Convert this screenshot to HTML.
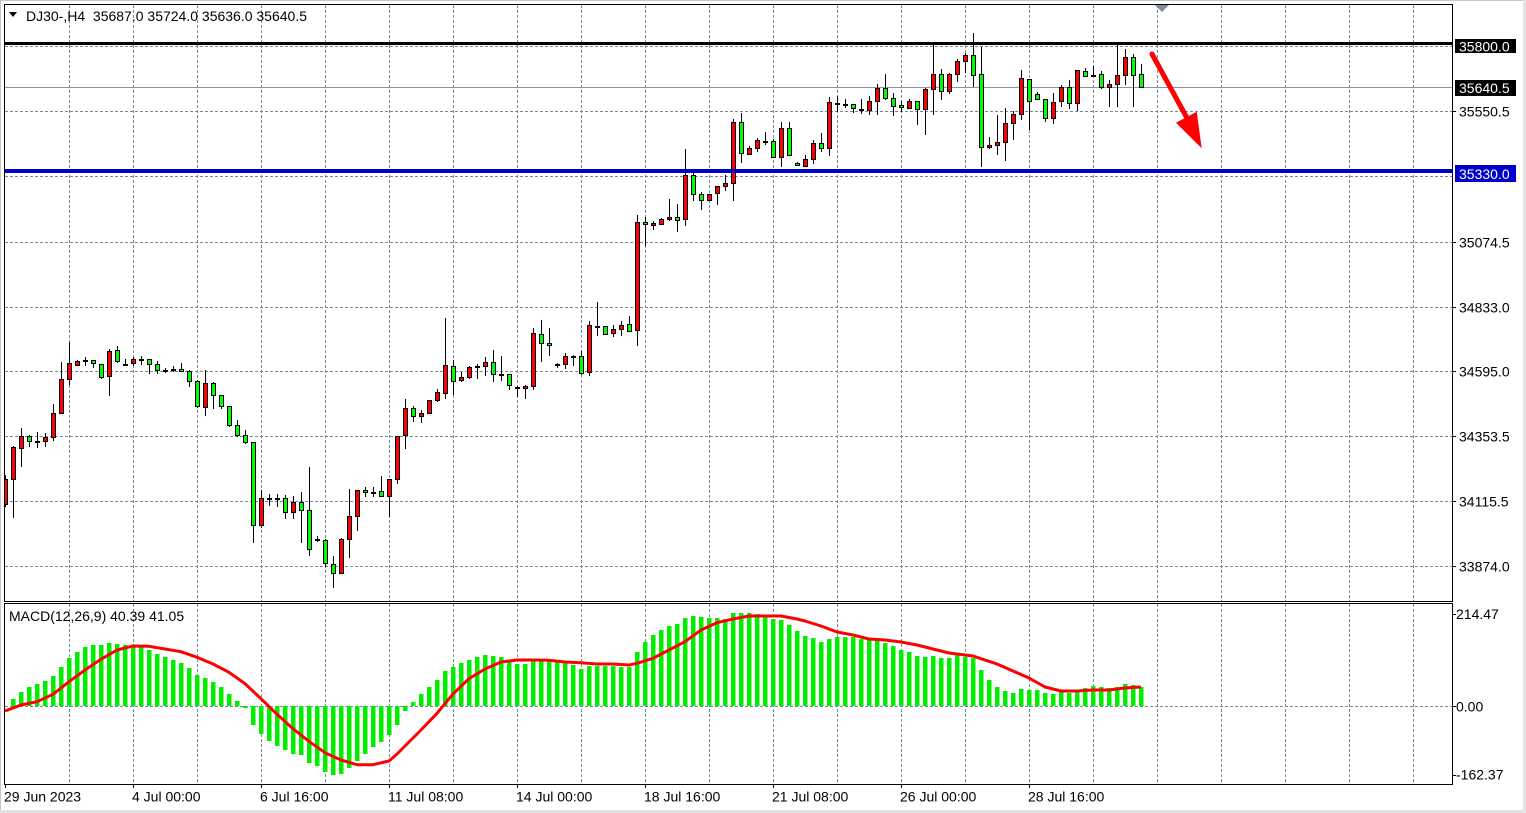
<!DOCTYPE html>
<html><head><meta charset="utf-8"><style>
html,body{margin:0;padding:0;background:#fff;}
svg{display:block;}
text{font-family:"Liberation Sans",Arial,sans-serif;font-size:14px;}
</style></head><body>
<svg width="1526" height="813" viewBox="0 0 1526 813" xmlns="http://www.w3.org/2000/svg">
<defs>
<clipPath id="cm"><rect x="5" y="5" width="1447" height="596"/></clipPath>
<clipPath id="cd"><rect x="5" y="604" width="1447" height="180"/></clipPath>
</defs>
<rect x="0" y="0" width="1526" height="813" fill="#fff"/>
<!-- outer frame -->
<path d="M0.5 813V0.5H1526" fill="none" stroke="#c8c8c8" stroke-width="1"/>
<rect x="1523" y="0" width="3" height="813" fill="#e4e4e4"/>
<rect x="0" y="810" width="1526" height="3" fill="#e4e4e4"/>

<!-- grid main -->
<g stroke="#778899" stroke-width="1" stroke-dasharray="3 2" fill="none">
<path d="M69.5 5V601M133.5 5V601M197.5 5V601M261.5 5V601M325.5 5V601M389.5 5V601M453.5 5V601M517.5 5V601M581.5 5V601M645.5 5V601M709.5 5V601M773.5 5V601M837.5 5V601M901.5 5V601M965.5 5V601M1029.5 5V601M1093.5 5V601M1157.5 5V601M1221.5 5V601M1285.5 5V601M1349.5 5V601M1413.5 5V601"/>
<path d="M5 46.5H1452M5 111.5H1452M5 176.5H1452M5 242.5H1452M5 307.5H1452M5 371.5H1452M5 436.5H1452M5 501.5H1452M5 566.5H1452"/>
<path d="M69.5 604V784M133.5 604V784M197.5 604V784M261.5 604V784M325.5 604V784M389.5 604V784M453.5 604V784M517.5 604V784M581.5 604V784M645.5 604V784M709.5 604V784M773.5 604V784M837.5 604V784M901.5 604V784M965.5 604V784M1029.5 604V784M1093.5 604V784M1157.5 604V784M1221.5 604V784M1285.5 604V784M1349.5 604V784M1413.5 604V784"/>
<path d="M5 706.5H1452"/>
</g>

<!-- bid line -->
<path d="M5 87.5H1452" stroke="#8a939c" stroke-width="1"/>

<g clip-path="url(#cm)">
<!-- wicks -->
<path fill="none" stroke="#000" stroke-width="1" d="M5.5 475V507M13.5 446V518M21.5 428V467M29.5 435V447M37.5 432V448M45.5 433V447M53.5 404V441M61.5 362V413M69.5 342V385M77.5 360V366M85.5 357V366M93.5 360V368M101.5 364V379M109.5 349V396M117.5 346V363M125.5 359V366M133.5 357V366M141.5 356V365M149.5 359V374M157.5 361V374M165.5 368V373M173.5 366V372M181.5 363V372M189.5 370V387M197.5 380V408M205.5 370V416M213.5 382V409M221.5 395V409M229.5 406V427M237.5 420V437M245.5 430V444M253.5 442V543M261.5 490V528M269.5 494V506M277.5 494V507M285.5 495V519M293.5 496V519M301.5 492V543M309.5 467V556M317.5 536V542M325.5 539V567M333.5 556V588M341.5 538V573M349.5 489V558M357.5 490V531M365.5 487V497M373.5 487V497M381.5 476V497M389.5 479V517M397.5 436V484M405.5 399V449M413.5 406V422M421.5 410V423M429.5 400V413M437.5 389V402M445.5 318V399M453.5 360V395M461.5 372V382M469.5 366V379M477.5 364V379M485.5 357V376M493.5 350V382M501.5 356V381M509.5 374V390M517.5 386V397M525.5 385V399M533.5 328V390M541.5 320V362M549.5 328V356M557.5 363V368M565.5 353V369M573.5 355V366M581.5 351V375M589.5 321V376M597.5 302V336M605.5 326V335M613.5 325V337M621.5 321V336M629.5 316V332M637.5 215V346M645.5 217V246M653.5 221V230M661.5 218V225M669.5 199V221M677.5 204V232M685.5 149V226M693.5 173V201M701.5 192V210M709.5 194V201M717.5 186V205M725.5 175V191M733.5 119V201M741.5 113V163M749.5 146V154M757.5 138V152M765.5 132V145M773.5 139V157M781.5 122V167M789.5 122V156M797.5 162V166M805.5 155V166M813.5 140V164M821.5 133V152M829.5 97V156M837.5 96V112M845.5 99V108M853.5 104V113M861.5 99V114M869.5 96V115M877.5 84V115M885.5 74V100M893.5 93V116M901.5 101V112M909.5 99V109M917.5 101V125M925.5 88V135M933.5 45V115M941.5 69V100M949.5 73V94M957.5 59V82M965.5 53V73M973.5 33V87M981.5 47V167M989.5 137V149M997.5 115V155M1005.5 108V161M1013.5 111V140M1021.5 70V120M1029.5 79V130M1037.5 92V99M1045.5 99V122M1053.5 93V124M1061.5 85V107M1069.5 80V109M1077.5 70V111M1085.5 68V77M1093.5 66V77M1101.5 71V89M1109.5 80V107M1117.5 45V107M1125.5 49V85M1133.5 54V107M1141.5 64V88"/>
<!-- red bodies -->
<path fill="#ff0000" stroke="#000" stroke-width="1" d="M3.5 479.5h4v25h-4zM11.5 447.5h4v32h-4zM19.5 436.5h4v12h-4zM43.5 437.5h4v4h-4zM51.5 413.5h4v24h-4zM59.5 379.5h4v34h-4zM67.5 363.5h4v16h-4zM75.5 361.5h4v4h-4zM107.5 351.5h4v25h-4zM131.5 359.5h4v4h-4zM203.5 383.5h4v24h-4zM259.5 498.5h4v27h-4zM291.5 502.5h4v10h-4zM339.5 539.5h4v34h-4zM347.5 516.5h4v23h-4zM355.5 490.5h4v26h-4zM387.5 479.5h4v17h-4zM395.5 436.5h4v43h-4zM403.5 408.5h4v27h-4zM419.5 413.5h4v3h-4zM427.5 400.5h4v13h-4zM435.5 392.5h4v8h-4zM443.5 365.5h4v28h-4zM459.5 377.5h4v3h-4zM467.5 367.5h4v10h-4zM483.5 362.5h4v4h-4zM523.5 386.5h4v2h-4zM531.5 333.5h4v53h-4zM563.5 356.5h4v8h-4zM587.5 325.5h4v47h-4zM611.5 329.5h4v4h-4zM619.5 325.5h4v4h-4zM635.5 222.5h4v108h-4zM651.5 223.5h4v2h-4zM659.5 219.5h4v5h-4zM667.5 217.5h4v2h-4zM683.5 175.5h4v44h-4zM707.5 194.5h4v6h-4zM715.5 186.5h4v7h-4zM723.5 183.5h4v3h-4zM731.5 122.5h4v61h-4zM747.5 148.5h4v6h-4zM755.5 140.5h4v8h-4zM779.5 128.5h4v29h-4zM803.5 159.5h4v7h-4zM811.5 143.5h4v16h-4zM827.5 102.5h4v46h-4zM867.5 101.5h4v9h-4zM875.5 88.5h4v13h-4zM907.5 101.5h4v7h-4zM923.5 89.5h4v20h-4zM931.5 74.5h4v15h-4zM947.5 74.5h4v17h-4zM955.5 61.5h4v13h-4zM963.5 55.5h4v6h-4zM987.5 145.5h4v2h-4zM995.5 142.5h4v3h-4zM1003.5 123.5h4v19h-4zM1011.5 114.5h4v9h-4zM1019.5 78.5h4v36h-4zM1051.5 102.5h4v16h-4zM1059.5 87.5h4v14h-4zM1075.5 70.5h4v33h-4zM1107.5 84.5h4v3h-4zM1115.5 75.5h4v9h-4zM1123.5 57.5h4v18h-4z"/>
<!-- green bodies -->
<path fill="#00ff00" stroke="#000" stroke-width="1" d="M27.5 436.5h4v5h-4zM91.5 360.5h4v3h-4zM99.5 364.5h4v13h-4zM115.5 350.5h4v11h-4zM147.5 359.5h4v5h-4zM155.5 364.5h4v6h-4zM179.5 369.5h4v2h-4zM187.5 371.5h4v10h-4zM195.5 381.5h4v25h-4zM211.5 383.5h4v12h-4zM219.5 395.5h4v11h-4zM227.5 406.5h4v19h-4zM235.5 425.5h4v10h-4zM243.5 435.5h4v7h-4zM251.5 442.5h4v83h-4zM283.5 498.5h4v14h-4zM299.5 502.5h4v8h-4zM307.5 510.5h4v39h-4zM323.5 540.5h4v23h-4zM331.5 564.5h4v9h-4zM363.5 490.5h4v2h-4zM379.5 491.5h4v5h-4zM411.5 408.5h4v8h-4zM451.5 366.5h4v15h-4zM491.5 362.5h4v12h-4zM507.5 374.5h4v11h-4zM539.5 334.5h4v9h-4zM547.5 343.5h4v2h-4zM579.5 356.5h4v17h-4zM603.5 326.5h4v8h-4zM627.5 324.5h4v7h-4zM643.5 222.5h4v2h-4zM675.5 217.5h4v3h-4zM691.5 175.5h4v19h-4zM699.5 194.5h4v6h-4zM739.5 122.5h4v31h-4zM771.5 141.5h4v16h-4zM787.5 128.5h4v27h-4zM795.5 163.5h4v2h-4zM819.5 143.5h4v5h-4zM851.5 104.5h4v4h-4zM883.5 88.5h4v10h-4zM891.5 98.5h4v8h-4zM899.5 105.5h4v2h-4zM915.5 101.5h4v8h-4zM939.5 74.5h4v17h-4zM971.5 55.5h4v20h-4zM979.5 74.5h4v73h-4zM1027.5 79.5h4v22h-4zM1035.5 94.5h4v5h-4zM1043.5 99.5h4v19h-4zM1067.5 87.5h4v16h-4zM1083.5 71.5h4v5h-4zM1099.5 74.5h4v13h-4zM1131.5 57.5h4v18h-4zM1139.5 74.5h4v13h-4z"/>
<!-- dojis -->
<path fill="none" stroke="#000" stroke-width="2" d="M35 442h5M83 361h5M123 365h5M139 360h5M163 371h5M171 370h5M267 499h5M275 499h5M315 540h5M371 493h5M475 367h5M499 375h5M515 388h5M555 365h5M571 357h5M595 327h5M763 142h5M835 104h5M843 105h5M859 110h5M1091 76h5"/>
</g>

<!-- level lines -->
<path d="M5 43.5H1452" stroke="#000" stroke-width="3"/>
<path d="M5 171H1452" stroke="#0000cc" stroke-width="4"/>

<!-- arrow -->
<path d="M1152 54L1187 118" stroke="#ff0000" stroke-width="5" stroke-linecap="round" fill="none"/>
<polygon points="1176,122.7 1196.7,111.7 1201.7,148.3" fill="#ff0000"/>

<!-- shift triangle -->
<polygon points="1155,5 1169,5 1162,12" fill="#7f8b97"/>

<!-- MACD histogram -->
<g clip-path="url(#cd)">
<path fill="#00f000" d="M11 706h4.5V699h-4.5zM19 706h4.5V692h-4.5zM27 706h4.5V687h-4.5zM35 706h4.5V684h-4.5zM43 706h4.5V681h-4.5zM51 706h4.5V676h-4.5zM59 706h4.5V667h-4.5zM67 706h4.5V658h-4.5zM75 706h4.5V652h-4.5zM83 706h4.5V647h-4.5zM91 706h4.5V645h-4.5zM99 706h4.5V645h-4.5zM107 706h4.5V643h-4.5zM115 706h4.5V644h-4.5zM123 706h4.5V645h-4.5zM131 706h4.5V645h-4.5zM139 706h4.5V646h-4.5zM147 706h4.5V650h-4.5zM155 706h4.5V654h-4.5zM163 706h4.5V657h-4.5zM171 706h4.5V660h-4.5zM179 706h4.5V663h-4.5zM187 706h4.5V668h-4.5zM195 706h4.5V675h-4.5zM203 706h4.5V678h-4.5zM211 706h4.5V682h-4.5zM219 706h4.5V687h-4.5zM227 706h4.5V694h-4.5zM235 706h4.5V701h-4.5zM243 706h4.5V708h-4.5zM251 706h4.5V725h-4.5zM259 706h4.5V734h-4.5zM267 706h4.5V741h-4.5zM275 706h4.5V746h-4.5zM283 706h4.5V750h-4.5zM291 706h4.5V754h-4.5zM299 706h4.5V755h-4.5zM307 706h4.5V763h-4.5zM315 706h4.5V766h-4.5zM323 706h4.5V772h-4.5zM331 706h4.5V775h-4.5zM339 706h4.5V774h-4.5zM347 706h4.5V768h-4.5zM355 706h4.5V761h-4.5zM363 706h4.5V754h-4.5zM371 706h4.5V747h-4.5zM379 706h4.5V742h-4.5zM387 706h4.5V735h-4.5zM395 706h4.5V725h-4.5zM403 706h4.5V711h-4.5zM411 706h4.5V702h-4.5zM419 706h4.5V694h-4.5zM427 706h4.5V687h-4.5zM435 706h4.5V680h-4.5zM443 706h4.5V671h-4.5zM451 706h4.5V667h-4.5zM459 706h4.5V663h-4.5zM467 706h4.5V660h-4.5zM475 706h4.5V657h-4.5zM483 706h4.5V655h-4.5zM491 706h4.5V656h-4.5zM499 706h4.5V657h-4.5zM507 706h4.5V660h-4.5zM515 706h4.5V664h-4.5zM523 706h4.5V664h-4.5zM531 706h4.5V661h-4.5zM539 706h4.5V661h-4.5zM547 706h4.5V661h-4.5zM555 706h4.5V662h-4.5zM563 706h4.5V663h-4.5zM571 706h4.5V665h-4.5zM579 706h4.5V669h-4.5zM587 706h4.5V666h-4.5zM595 706h4.5V666h-4.5zM603 706h4.5V666h-4.5zM611 706h4.5V666h-4.5zM619 706h4.5V667h-4.5zM627 706h4.5V667h-4.5zM635 706h4.5V652h-4.5zM643 706h4.5V642h-4.5zM651 706h4.5V635h-4.5zM659 706h4.5V630h-4.5zM667 706h4.5V626h-4.5zM675 706h4.5V624h-4.5zM683 706h4.5V618h-4.5zM691 706h4.5V616h-4.5zM699 706h4.5V617h-4.5zM707 706h4.5V618h-4.5zM715 706h4.5V618h-4.5zM723 706h4.5V619h-4.5zM731 706h4.5V613h-4.5zM739 706h4.5V613h-4.5zM747 706h4.5V613h-4.5zM755 706h4.5V614h-4.5zM763 706h4.5V617h-4.5zM771 706h4.5V619h-4.5zM779 706h4.5V620h-4.5zM787 706h4.5V625h-4.5zM795 706h4.5V631h-4.5zM803 706h4.5V636h-4.5zM811 706h4.5V638h-4.5zM819 706h4.5V642h-4.5zM827 706h4.5V639h-4.5zM835 706h4.5V637h-4.5zM843 706h4.5V637h-4.5zM851 706h4.5V637h-4.5zM859 706h4.5V639h-4.5zM867 706h4.5V640h-4.5zM875 706h4.5V640h-4.5zM883 706h4.5V643h-4.5zM891 706h4.5V646h-4.5zM899 706h4.5V650h-4.5zM907 706h4.5V652h-4.5zM915 706h4.5V656h-4.5zM923 706h4.5V657h-4.5zM931 706h4.5V656h-4.5zM939 706h4.5V658h-4.5zM947 706h4.5V658h-4.5zM955 706h4.5V655h-4.5zM963 706h4.5V657h-4.5zM971 706h4.5V658h-4.5zM979 706h4.5V670h-4.5zM987 706h4.5V680h-4.5zM995 706h4.5V687h-4.5zM1003 706h4.5V691h-4.5zM1011 706h4.5V693h-4.5zM1019 706h4.5V689h-4.5zM1027 706h4.5V690h-4.5zM1035 706h4.5V690h-4.5zM1043 706h4.5V693h-4.5zM1051 706h4.5V694h-4.5zM1059 706h4.5V692h-4.5zM1067 706h4.5V693h-4.5zM1075 706h4.5V692h-4.5zM1083 706h4.5V688h-4.5zM1091 706h4.5V686h-4.5zM1099 706h4.5V687h-4.5zM1107 706h4.5V688h-4.5zM1115 706h4.5V687h-4.5zM1123 706h4.5V684h-4.5zM1131 706h4.5V685h-4.5zM1139 706h4.5V687h-4.5z"/>
<polyline fill="none" stroke="#ff0000" stroke-width="3" stroke-linejoin="round" points="5,711 21,705 37,701.7 53,694.3 69,681.7 85,670 101,659.3 117,650 133,646 149,646.3 165,649 181,651.7 197,657.3 213,664 229,672.3 245,683.7 261,698.7 277,714.3 293,728.7 309,741.3 325,752.7 341,760 357,764.7 373,764.7 389,761 397,754 405,746 421,730 437,713.3 453,694 469,678.7 485,669 501,662 517,660 533,660 549,660.3 565,662 581,662.7 597,664 613,664 629,665 637,663.3 653,658.3 669,650 685,641.7 701,630 717,622.7 733,619 749,616 765,616 781,616 797,619 805,621 821,626 837,632 853,635 869,639 885,640 901,642 917,645 933,649 949,653 965,655 973,656 981,658.7 997,664 1013,671 1029,678 1045,687 1061,691 1077,691 1093,690 1109,690 1125,688 1141,687"/>
</g>

<!-- pane frames -->
<rect x="4.5" y="4.5" width="1448" height="597" fill="none" stroke="#000" stroke-width="1"/>
<rect x="4.5" y="603.5" width="1448" height="181" fill="none" stroke="#000" stroke-width="1"/>

<!-- axis ticks -->
<path stroke="#000" stroke-width="1" d="M1453 111.5h3M1453 242.5h3M1453 307.5h3M1453 371.5h3M1453 436.5h3M1453 501.5h3M1453 566.5h3M1453 614.5h3M1453 706.5h3M1453 775.5h3M5.5 785v3M133.5 785v3M261.5 785v3M389.5 785v3M517.5 785v3M645.5 785v3M773.5 785v3M901.5 785v3M1029.5 785v3"/>

<!-- price labels -->
<rect x="1455" y="39" width="61" height="14" fill="#000"/>
<text x="1459" y="51.5" fill="#fff">35800.0</text>
<rect x="1455" y="80" width="61" height="16" fill="#000"/>
<text x="1459" y="93" fill="#fff">35640.5</text>
<rect x="1455" y="165" width="61" height="17" fill="#0000cc"/>
<text x="1459" y="179" fill="#fff">35330.0</text>
<g fill="#000">
<text x="1459" y="116.5">35550.5</text>
<text x="1459" y="247.5">35074.5</text>
<text x="1459" y="312.5">34833.0</text>
<text x="1459" y="376.5">34595.0</text>
<text x="1459" y="441.5">34353.5</text>
<text x="1459" y="506.5">34115.5</text>
<text x="1459" y="571.5">33874.0</text>
<text x="1456" y="619">214.47</text>
<text x="1456" y="711.5">0.00</text>
<text x="1456" y="779.5">-162.37</text>
</g>

<!-- time labels -->
<g fill="#000">
<text x="4" y="801.5">29 Jun 2023</text>
<text x="132" y="801.5">4 Jul 00:00</text>
<text x="260" y="801.5">6 Jul 16:00</text>
<text x="388" y="801.5">11 Jul 08:00</text>
<text x="516" y="801.5">14 Jul 00:00</text>
<text x="644" y="801.5">18 Jul 16:00</text>
<text x="772" y="801.5">21 Jul 08:00</text>
<text x="900" y="801.5">26 Jul 00:00</text>
<text x="1028" y="801.5">28 Jul 16:00</text>
</g>

<!-- header -->
<polygon points="9,12 17,12 13,17" fill="#000"/>
<text x="26" y="21" fill="#000" xml:space="preserve">DJ30-,H4  35687.0 35724.0 35636.0 35640.5</text>
<text x="9" y="621" fill="#000">MACD(12,26,9) 40.39 41.05</text>
</svg>
</body></html>
